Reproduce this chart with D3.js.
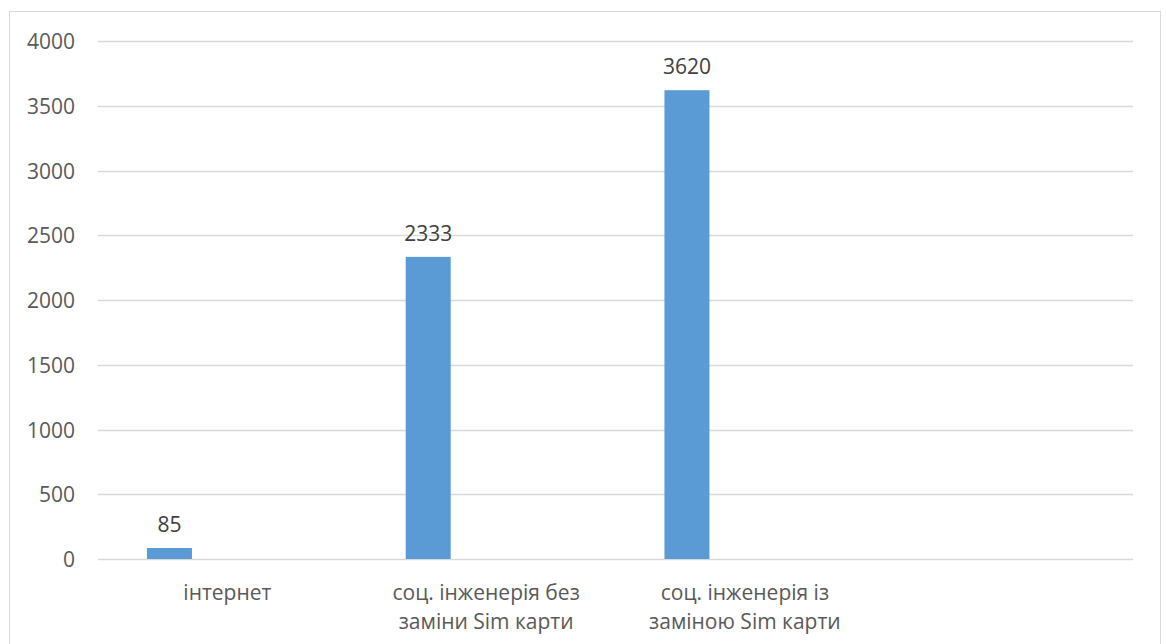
<!DOCTYPE html>
<html>
<head>
<meta charset="utf-8">
<script src="https://cdn.jsdelivr.net/npm/d3@7"></script>
<style>
  html, body { margin: 0; padding: 0; background: #fff; }
  svg { display: block; }
  text { font-family: "Open Sans", "Noto Sans", sans-serif; }
</style>
</head>
<body>
<svg id="chart" width="1166" height="644"></svg>
<script>
// Categories (the last slot is an empty category kept on the axis)
const categories = ["інтернет", "соц. інженерія без заміни Sim карти", "соц. інженерія із заміною Sim карти", ""];
const values = [85, 2333, 3620, null];
const yTicks = [0, 500, 1000, 1500, 2000, 2500, 3000, 3500, 4000];

const plot = { left: 98, right: 1133, top: 41, bottom: 559 };
const FONT = "21px";

const svg = d3.select("#chart");

// Outer chart frame
svg.append("rect")
  .attr("x", 9.5).attr("y", 11.5)
  .attr("width", 1151).attr("height", 660)
  .attr("fill", "#fff").attr("stroke", "#D9D9D9").attr("stroke-width", 1);

const x = d3.scaleBand().domain(d3.range(categories.length))
  .range([plot.left, plot.right]).paddingInner(0).paddingOuter(0);

// Bar slot inside each category band (bar sits left of the band centre)
const slot = d3.scaleBand().domain(["Ряд1"])
  .range([0, x.bandwidth()]).paddingInner(0).paddingOuter(2.375).align(0.229);

const y = d3.scaleLinear().domain([0, 4000]).range([plot.bottom, plot.top]);

// Horizontal gridlines
svg.append("g")
  .selectAll("line").data(yTicks).join("line")
  .attr("x1", plot.left).attr("x2", plot.right)
  .attr("y1", d => Math.round(y(d)) + 0.5).attr("y2", d => Math.round(y(d)) + 0.5)
  .attr("stroke", "#D9D9D9").attr("stroke-width", 1.3);

// Y axis labels
const yAxis = d3.axisLeft(y).tickValues(yTicks).tickSize(0).tickPadding(0).tickFormat(d3.format("d"));
const gy = svg.append("g").attr("transform", `translate(75,0)`).call(yAxis);
gy.select(".domain").remove();
gy.selectAll("text")
  .attr("fill", "#595959").attr("font-size", FONT)
  .attr("font-family", "\"Open Sans\", sans-serif")
  .attr("dy", "0.36em");

// Bars
const barData = values.map((v, i) => ({ i, v })).filter(d => d.v != null);
svg.append("g").selectAll("rect").data(barData).join("rect")
  .attr("x", d => x(d.i) + slot("Ряд1"))
  .attr("width", slot.bandwidth())
  .attr("y", d => y(d.v))
  .attr("height", d => y(0) - y(d.v))
  .attr("fill", "#5B9BD5");

// Value labels
svg.append("g").selectAll("text").data(barData).join("text")
  .attr("x", d => x(d.i) + slot("Ряд1") + slot.bandwidth() / 2)
  .attr("y", d => y(d.v) - 16)
  .attr("text-anchor", "middle")
  .attr("fill", "#404040").attr("font-size", FONT)
  .text(d => d.v);

// Category labels, wrapped to the band width
const xAxis = d3.axisBottom(x).tickSize(0).tickPadding(0).tickFormat(i => categories[i]);
const gx = svg.append("g").attr("transform", `translate(0,${plot.bottom})`).call(xAxis);
gx.select(".domain").remove();
gx.selectAll("text")
  .attr("fill", "#595959").attr("font-size", FONT)
  .attr("font-family", "\"Open Sans\", sans-serif")
  .attr("dy", null)
  .attr("y", 0)
  .each(function () {
    const t = d3.select(this);
    const words = t.text().split(/\s+/).filter(Boolean);
    t.text(null);
    const maxW = 225;
    let lines = [], line = [];
    const probe = t.append("tspan");
    words.forEach(w => {
      line.push(w);
      probe.text(line.join(" "));
      if (probe.node().getComputedTextLength() > maxW && line.length > 1) {
        line.pop();
        lines.push(line.join(" "));
        line = [w];
      }
    });
    if (line.length) lines.push(line.join(" "));
    probe.remove();
    lines.forEach((l, k) => {
      t.append("tspan").attr("x", 0).attr("y", 41 + k * 28.5).text(l);
    });
  });
</script>
</body>
</html>
